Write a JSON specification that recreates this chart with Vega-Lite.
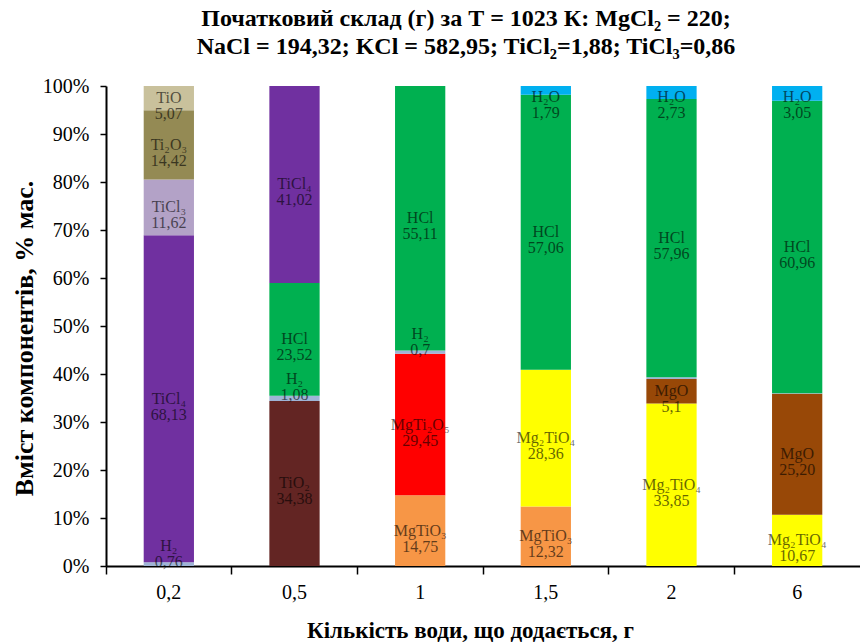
{
  "$schema": "https://vega.github.io/schema/vega-lite/v6.json",
  "autosize": {"type": "none"},
  "padding": {"left": 106, "top": 86, "right": 0, "bottom": 77},
  "width": 754,
  "height": 480,
  "background": "white",
  "config": {
    "view": {"stroke": null},
    "font": "Times New Roman, Liberation Serif, DejaVu Serif, serif",
    "axis": {"labelFont": "Times New Roman, Liberation Serif, DejaVu Serif, serif", "titleFont": "Times New Roman, Liberation Serif, DejaVu Serif, serif", "labelColor": "black", "titleColor": "black", "domainColor": "black", "tickColor": "black"}
  },
  "title": {
    "text": ["Початковий склад (г) за Т = 1023 К:  MgCl₂ = 220;", "NaCl = 194,32; KCl = 582,95;  TiCl₂=1,88; TiCl₃=0,86"],
    "anchor": "middle",
    "dx": -17,
    "offset": 17,
    "font": "Times New Roman, Liberation Serif, DejaVu Serif, serif",
    "fontSize": 24,
    "fontWeight": "bold",
    "lineHeight": 28,
    "color": "black"
  },
  "data": {
    "values": [
      {"w": "0,2", "c": "H₂", "v": 0.76, "t": "0,76"},
      {"w": "0,2", "c": "TiCl₄", "v": 68.13, "t": "68,13"},
      {"w": "0,2", "c": "TiCl₃", "v": 11.62, "t": "11,62"},
      {"w": "0,2", "c": "Ti₂O₃", "v": 14.42, "t": "14,42"},
      {"w": "0,2", "c": "TiO", "v": 5.07, "t": "5,07"},
      {"w": "0,5", "c": "TiO₂", "v": 34.38, "t": "34,38"},
      {"w": "0,5", "c": "H₂", "v": 1.08, "t": "1,08"},
      {"w": "0,5", "c": "HCl", "v": 23.52, "t": "23,52"},
      {"w": "0,5", "c": "TiCl₄", "v": 41.02, "t": "41,02"},
      {"w": "1", "c": "MgTiO₃", "v": 14.75, "t": "14,75"},
      {"w": "1", "c": "MgTi₂O₅", "v": 29.45, "t": "29,45"},
      {"w": "1", "c": "H₂", "v": 0.7, "t": "0,7"},
      {"w": "1", "c": "HCl", "v": 55.11, "t": "55,11"},
      {"w": "1,5", "c": "MgTiO₃", "v": 12.32, "t": "12,32"},
      {"w": "1,5", "c": "Mg₂TiO₄", "v": 28.36, "t": "28,36"},
      {"w": "1,5", "c": "HCl", "v": 57.06, "t": "57,06"},
      {"w": "1,5", "c": "H₂O", "v": 1.79, "t": "1,79"},
      {"w": "2", "c": "Mg₂TiO₄", "v": 33.85, "t": "33,85"},
      {"w": "2", "c": "MgO", "v": 5.1, "t": "5,1"},
      {"w": "2", "c": "H₂", "v": 0.36, "t": null},
      {"w": "2", "c": "HCl", "v": 57.96, "t": "57,96"},
      {"w": "2", "c": "H₂O", "v": 2.73, "t": "2,73"},
      {"w": "6", "c": "Mg₂TiO₄", "v": 10.67, "t": "10,67"},
      {"w": "6", "c": "MgO", "v": 25.2, "t": "25,20"},
      {"w": "6", "c": "H₂", "v": 0.12, "t": null},
      {"w": "6", "c": "HCl", "v": 60.96, "t": "60,96"},
      {"w": "6", "c": "H₂O", "v": 3.05, "t": "3,05"}
    ]
  },
  "transform": [
    {"calculate": "indexof(['MgTiO₃','MgTi₂O₅','Mg₂TiO₄','MgO','TiO₂','H₂','HCl','H₂O','TiCl₄','TiCl₃','Ti₂O₃','TiO'], datum.c)", "as": "ord"},
    {"stack": "v", "groupby": ["w"], "sort": [{"field": "ord", "order": "ascending"}], "offset": "normalize", "as": ["y0", "y1"]},
    {"calculate": "datum.y0 > 0.965 ? 0.977 : ((datum.y1 - datum.y0) < 0.02 ? datum.y1 + 0.035 : (datum.y0 + datum.y1) / 2)", "as": "ly"},
    {"calculate": "[datum.c, datum.t]", "as": "lab"}
  ],
  "encoding": {
    "x": {
      "field": "w",
      "type": "ordinal",
      "sort": ["0,2", "0,5", "1", "1,5", "2", "6"],
      "scale": {"paddingInner": 0, "paddingOuter": 0},
      "axis": {
        "title": "Кількість води, що додається, г",
        "titleFontSize": 23,
        "titleFontWeight": "bold",
        "titleX": 364,
        "titleY": 64,
        "titleBaseline": "middle",
        "labelAngle": 0,
        "labelFontSize": 20,
        "labelPadding": 8,
        "bandPosition": 0,
        "tickSize": 8,
        "domainWidth": 2,
        "tickWidth": 1.5
      }
    }
  },
  "layer": [
    {
      "mark": {"type": "bar", "width": {"band": 0.4}},
      "encoding": {
        "y": {
          "field": "y0",
          "type": "quantitative",
          "scale": {"domain": [0, 1], "nice": false},
          "axis": {
            "title": "Вміст компонентів, %  мас.",
            "titleFontSize": 26,
            "titleFontWeight": "bold",
            "titleX": -82,
            "titleY": 252,
            "titleBaseline": "middle",
            "values": [0, 0.1, 0.2, 0.3, 0.4, 0.5, 0.6, 0.7, 0.8, 0.9, 1],
            "format": ".0%",
            "labelFontSize": 20,
            "labelPadding": 11,
            "tickSize": 6,
            "domainWidth": 2,
            "tickWidth": 1.5,
            "grid": false
          }
        },
        "y2": {"field": "y1"},
        "color": {
          "field": "c",
          "type": "nominal",
          "legend": null,
          "scale": {
            "domain": ["MgTiO₃", "MgTi₂O₅", "Mg₂TiO₄", "MgO", "TiO₂", "H₂", "HCl", "H₂O", "TiCl₄", "TiCl₃", "Ti₂O₃", "TiO"],
            "range": ["#f79646", "#ff0000", "#ffff00", "#984807", "#632523", "#9fb4d6", "#00b050", "#00b0f0", "#7030a0", "#b3a2c7", "#948a54", "#c9c19c"]
          }
        }
      }
    },
    {
      "transform": [{"filter": "datum.t != null"}],
      "mark": {"type": "text", "font": "Times New Roman, Liberation Serif, DejaVu Serif, serif", "fontSize": 16, "lineHeight": 16, "baseline": "middle", "color": "black", "opacity": 0.6},
      "encoding": {
        "y": {"field": "ly", "type": "quantitative"},
        "text": {"field": "lab"}
      }
    }
  ]
}
